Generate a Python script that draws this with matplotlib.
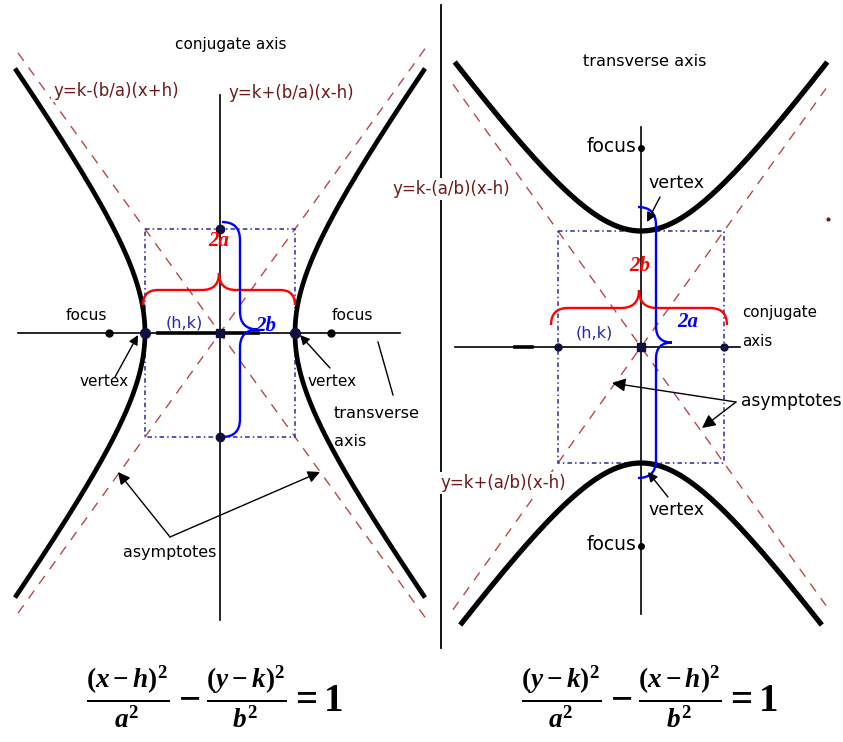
import numpy as np
import matplotlib.pyplot as plt
from matplotlib.path import Path
from matplotlib.patches import PathPatch, Rectangle

W, H = 843, 742

# left panel: transverse axis horizontal (pixel units, y grows downward)
LEFT_CENTER = (220, 333)
LEFT_A = 75          # half width of the box
LEFT_B = 104         # half height of the box
LEFT_C = 111         # centre to focus
LEFT_REACH = 205     # horizontal reach of the branches
LEFT_ASYM_REACH = (202, 205)

# right panel: transverse axis vertical
RIGHT_CENTER = (641, 347)
RIGHT_A = 116        # half height of the box
RIGHT_B = 83         # half width of the box
RIGHT_C = 199
RIGHT_REACH = (285, 278)   # upper / lower branch vertical reach
RIGHT_ASYM_REACH = (188, 185)

SEP_X = 441

FONT = ['Liberation Sans Narrow', 'DejaVu Sans']
ASYM = '#b5484a'
ASYM_TXT = '#6e1a1a'
BOXC = '#2a2a9a'

plt.rcParams['mathtext.fontset'] = 'custom'
plt.rcParams['mathtext.it'] = 'Liberation Serif:italic:bold'
plt.rcParams['mathtext.rm'] = 'Liberation Serif:bold'
plt.rcParams['mathtext.bf'] = 'Liberation Serif:bold'

fig = plt.figure(figsize=(W / 100, H / 100), dpi=100)
ax = fig.add_axes([0, 0, 1, 1])
ax.set_xlim(0, W)
ax.set_ylim(H, 0)
ax.axis('off')


def brace_h(x0, x1, y, tip, end, color):
    xm = (x0 + x1) / 2
    r = end - y
    q = y - tip
    verts = [(x0, end), (x0, y), (x0 + r, y), (xm - q, y), (xm, y), (xm, tip),
             (xm, y), (xm + q, y), (x1 - r, y), (x1, y), (x1, end)]
    codes = [Path.MOVETO, Path.CURVE3, Path.CURVE3, Path.LINETO, Path.CURVE3, Path.CURVE3,
             Path.CURVE3, Path.CURVE3, Path.LINETO, Path.CURVE3, Path.CURVE3]
    ax.add_patch(PathPatch(Path(verts, codes), fc='none', ec=color, lw=1.7, zorder=6))


def brace_v(x, y0, y1, tip, end, color):
    ym = (y0 + y1) / 2
    r = x - end
    q = tip - x
    verts = [(end, y0), (x, y0), (x, y0 + r), (x, ym - q), (x, ym), (tip, ym),
             (x, ym), (x, ym + q), (x, y1 - r), (x, y1), (end, y1)]
    codes = [Path.MOVETO, Path.CURVE3, Path.CURVE3, Path.LINETO, Path.CURVE3, Path.CURVE3,
             Path.CURVE3, Path.CURVE3, Path.LINETO, Path.CURVE3, Path.CURVE3]
    ax.add_patch(PathPatch(Path(verts, codes), fc='none', ec=color, lw=1.7, zorder=6))


def arrow(tail, tip, ms=14):
    ax.annotate('', xy=tip, xytext=tail,
                arrowprops=dict(arrowstyle='-|>', color='k', lw=1.0,
                                mutation_scale=ms, shrinkA=0, shrinkB=0), zorder=7)


def label(x, y, s, size=10, color='k', ha='left', bg=False):
    kw = {}
    if bg:
        kw['bbox'] = dict(fc='white', ec='none', pad=1.5)
    ax.text(x, y, s, fontsize=size, color=color, ha=ha, va='center',
            family=FONT, zorder=8, **kw)


def seg_label(x, y, s, color):
    ax.text(x, y, s, fontsize=15, color=color, ha='center', va='center',
            family='Liberation Serif', weight='bold', style='italic', zorder=8)


# ---------------- left panel ----------------
h, k = LEFT_CENTER
ax.plot([18, 400], [k, k], color='k', lw=1.2, zorder=2)
ax.plot([158, 258], [k, k], color='k', lw=2.6, zorder=2)
ax.plot([h, h], [95, 620], color='k', lw=1.2, zorder=2)

t = np.linspace(-np.arccosh(LEFT_REACH / LEFT_A), np.arccosh(LEFT_REACH / LEFT_A), 200)
for s in (-1, 1):
    ax.plot(h + s * LEFT_A * np.cosh(t), k + LEFT_B * np.sinh(t), color='k', lw=3.4,
            solid_capstyle='butt', zorder=4)

slope = LEFT_B / LEFT_A
xs = np.array([h - LEFT_ASYM_REACH[0], h + LEFT_ASYM_REACH[1]])
for s in (-1, 1):
    ax.plot(xs, k + s * slope * (xs - h), color=ASYM, lw=1.0, dashes=(7, 6), zorder=3)

ax.add_patch(Rectangle((h - LEFT_A, k - LEFT_B), 2 * LEFT_A, 2 * LEFT_B, fill=False,
                       ec=BOXC, lw=1.1, ls=(0, (3, 2, 1, 2)), zorder=3))

ax.plot([h, h], [k - LEFT_B, k + LEFT_B], 'o', color='#101040', ms=6, zorder=7)
ax.plot([h - LEFT_A, h + LEFT_A], [k, k], 'o', color='#101040', ms=7, zorder=7)
ax.plot([h - LEFT_C, h + LEFT_C], [k, k], 'o', color='k', ms=5, zorder=7)
ax.plot([h], [k], 's', color='#101040', ms=6, zorder=7)

brace_h(h - LEFT_A - 2, h + LEFT_A, 290, 273, 305, '#ff0000')
brace_v(240, 222, 437, 258, 222, '#0000ff')

label(231, 44, 'conjugate axis', 11, ha='center')
label(53, 91, 'y=k-(b/a)(x+h)', 12, ASYM_TXT, bg=True)
label(228, 93, 'y=k+(b/a)(x-h)', 12, ASYM_TXT)
seg_label(219, 241, '2a', '#ff0000')
seg_label(266, 326, '2b', '#0000ff')
label(184, 323, '(h,k)', 11.5, '#2626b0', ha='center')
label(86, 315, 'focus', 11.2, ha='center')
label(352, 315, 'focus', 11.2, ha='center')
label(104, 382, 'vertex', 11, ha='center')
label(332, 382, 'vertex', 11, ha='center')
label(334, 413, 'transverse', 11.6)
label(334, 442, 'axis', 11.6)
label(170, 553, 'asymptotes', 11.4, ha='center')

arrow((115, 377), (138, 335))
arrow((330, 368), (300, 335))
arrow((170, 537), (118, 472), 18)
arrow((170, 537), (320, 472), 18)
ax.plot([378, 393], [342, 395], color='k', lw=1.0, zorder=7)

# separator
ax.plot([SEP_X, SEP_X], [5, 648], color='k', lw=1.3, zorder=2)

# ---------------- right panel ----------------
h, k = RIGHT_CENTER
ax.plot([455, 740], [k, k], color='k', lw=1.2, zorder=2)
ax.plot([515, 532], [k, k], color='k', lw=2.6, zorder=2)
ax.plot([h, h], [127, 614], color='k', lw=1.2, zorder=2)

for s, reach in zip((-1, 1), RIGHT_REACH):
    tm = np.arccosh(reach / RIGHT_A)
    t = np.linspace(-tm, tm, 200)
    ax.plot(h + RIGHT_B * np.sinh(t), k + s * RIGHT_A * np.cosh(t), color='k', lw=3.8,
            solid_capstyle='butt', zorder=4)

slope = RIGHT_A / RIGHT_B
xs = np.array([h - RIGHT_ASYM_REACH[0], h + RIGHT_ASYM_REACH[1]])
for s in (-1, 1):
    ax.plot(xs, k + s * slope * (xs - h), color=ASYM, lw=1.0, dashes=(7, 6), zorder=3)

ax.add_patch(Rectangle((h - RIGHT_B, k - RIGHT_A), 2 * RIGHT_B, 2 * RIGHT_A, fill=False,
                       ec=BOXC, lw=1.1, ls=(0, (3, 2, 1, 2)), zorder=3))

ax.plot([h - RIGHT_B, h + RIGHT_B], [k, k], 'o', color='#101040', ms=5, zorder=7)
ax.plot([h, h], [k - RIGHT_C, k + RIGHT_C], 'o', color='k', ms=4, zorder=7)
ax.plot([h], [k], 's', color='#101040', ms=6, zorder=7)
ax.plot([828], [219], 'o', color=ASYM_TXT, ms=2, zorder=7)

brace_h(551, 727, 308, 290, 325, '#ff0000')
brace_v(656, 207, 478, 672, 638, '#0000ff')

label(645, 61, 'transverse axis', 11.6, ha='center')
label(612, 147, 'focus', 13.5, ha='center')
label(612, 545, 'focus', 13.5, ha='center')
label(676, 183, 'vertex', 12.5, ha='center')
label(676, 510, 'vertex', 12.5, ha='center')
label(392, 189, 'y=k-(a/b)(x-h)', 12, ASYM_TXT, bg=True)
label(440, 483, 'y=k+(a/b)(x-h)', 12, ASYM_TXT, bg=True)
label(742, 312, 'conjugate', 10.8)
label(742, 342, 'axis', 10.8)
label(594, 333, '(h,k)', 11.5, '#2626b0', ha='center')
label(741, 401, 'asymptotes', 12.3)
seg_label(640, 266, '2b', '#ff0000')
seg_label(688, 322, '2a', '#0000ff')

arrow((660, 197), (647, 222))
arrow((668, 497), (648, 472))
arrow((736, 402), (612, 383), 20)
arrow((736, 402), (702, 428), 20)

# ---------------- equations ----------------
ax.text(215, 697, r'$\frac{(x-h)^2}{a^2}-\frac{(y-k)^2}{b^2}=1$', fontsize=28,
        ha='center', va='center', zorder=8)
ax.text(650, 697, r'$\frac{(y-k)^2}{a^2}-\frac{(x-h)^2}{b^2}=1$', fontsize=28,
        ha='center', va='center', zorder=8)

fig.savefig('out.png', dpi=100, facecolor='white')
